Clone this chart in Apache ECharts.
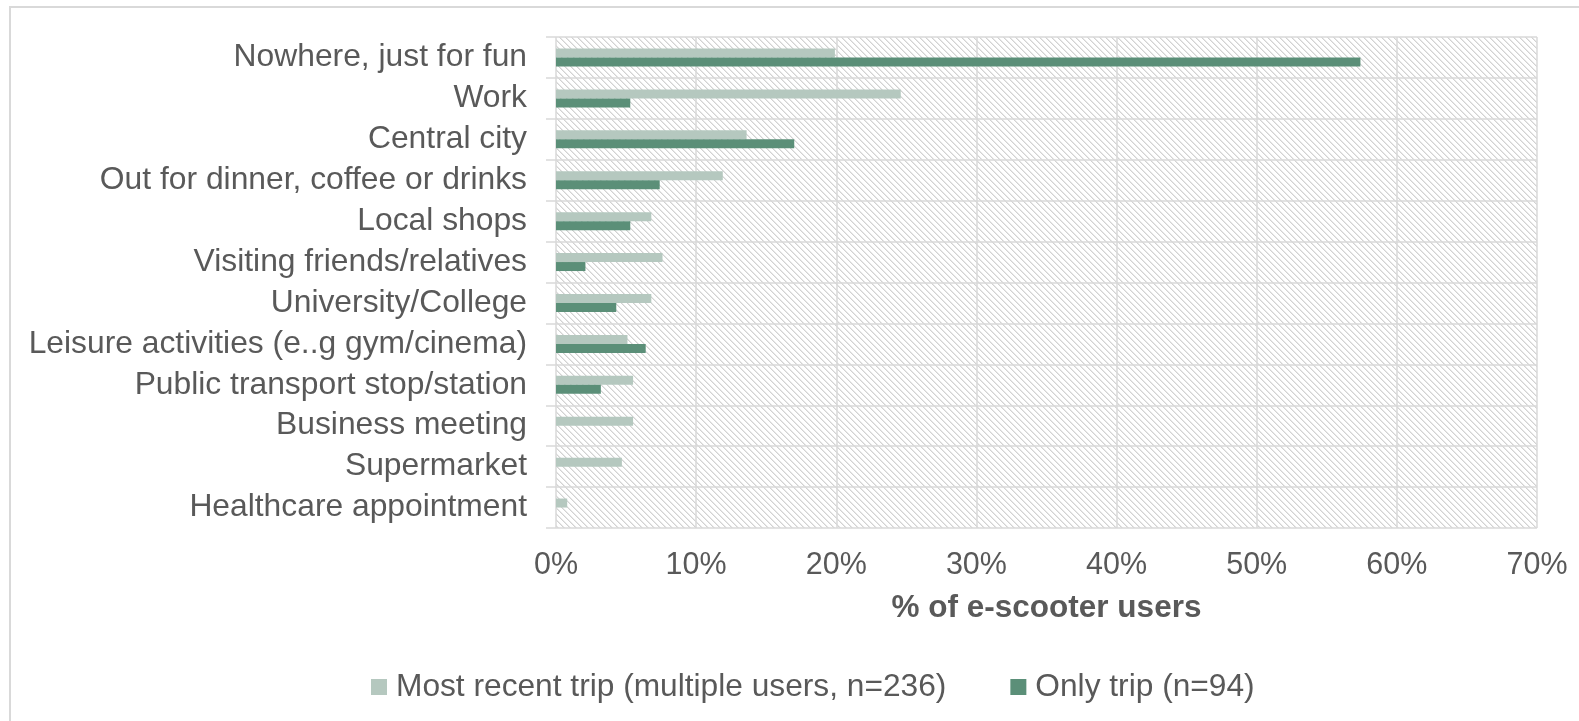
<!DOCTYPE html>
<html>
<head>
<meta charset="utf-8">
<script src="https://cdn.jsdelivr.net/npm/echarts@6/dist/echarts.min.js"></script>
<style>
  html, body { margin: 0; padding: 0; background: #ffffff; }
  #chart { width: 1579px; height: 721px; }
</style>
</head>
<body>
<div id="chart"></div>
<script>
// Trip destinations, top to bottom
const categories = [
  'Nowhere, just for fun',
  'Work',
  'Central city',
  'Out for dinner, coffee or drinks',
  'Local shops',
  'Visiting friends/relatives',
  'University/College',
  'Leisure activities (e..g gym/cinema)',
  'Public transport stop/station',
  'Business meeting',
  'Supermarket',
  'Healthcare appointment'
];

// Share of e-scooter users (%)
const recentTrip = [19.9, 24.6, 13.6, 11.9, 6.8, 7.6, 6.8, 5.1, 5.5, 5.5, 4.7, 0.8];
const onlyTrip   = [57.4, 5.3, 17.0, 7.4, 5.3, 2.1, 4.3, 6.4, 3.2, 0, 0, 0];

const seriesNames = ['Most recent trip (multiple users, n=236)', 'Only trip (n=94)'];
const xTicks = { min: 0, max: 70, step: 10 };

const TEXT = '#595959';
const GRID = '#d9d9d9';
const FONT = '"Liberation Sans", Arial, sans-serif';

// Diagonal hatch used as the plot-area fill
function hatch() {
  const c = document.createElement('canvas');
  c.width = 6; c.height = 6;
  const g = c.getContext('2d');
  g.fillStyle = '#ffffff';
  g.fillRect(0, 0, 6, 6);
  for (let i = 0; i < 6; i++) {
    g.fillStyle = '#d2d2d2';
    g.fillRect(i, i, 1, 1);
    g.fillStyle = '#e8e8e8';
    g.fillRect((i + 1) % 6, i, 1, 1);
  }
  return c;
}

const chart = echarts.init(document.getElementById('chart'));
chart.setOption({
  backgroundColor: '#ffffff',
  animation: false,
  textStyle: { fontFamily: FONT },
  graphic: [{
    type: 'rect',
    silent: true,
    z: -10,
    shape: { x: 10, y: 7, width: 3000, height: 3000 },
    style: { fill: 'none', stroke: GRID, lineWidth: 2 }
  }],
  grid: {
    left: 556, right: 42, top: 37, height: 491,
    show: true,
    backgroundColor: { image: hatch(), repeat: 'repeat' },
    borderWidth: 0
  },
  legend: {
    left: 366, top: 666,
    itemWidth: 16, itemHeight: 16, itemGap: 64,
    icon: 'rect',
    textStyle: { color: TEXT, fontSize: 31.7, fontFamily: FONT, padding: [0, 0, 0, 4] },
    data: seriesNames
  },
  xAxis: {
    type: 'value',
    min: xTicks.min, max: xTicks.max, interval: xTicks.step,
    axisLine: { show: false },
    axisTick: { show: false },
    splitLine: { show: true, lineStyle: { color: GRID, width: 1.5 } },
    axisLabel: { color: TEXT, fontSize: 30.5, fontFamily: FONT, margin: 22, formatter: '{value}%' },
    name: '% of e-scooter users',
    nameLocation: 'middle',
    nameGap: 64,
    nameTextStyle: { color: TEXT, fontSize: 31.5, fontWeight: 'bold', fontFamily: FONT }
  },
  yAxis: {
    type: 'category',
    inverse: true,
    data: categories,
    axisLine: { show: false },
    axisTick: { show: true, interval: 0, length: 10, lineStyle: { color: GRID, width: 1.5 } },
    splitLine: { show: true, interval: 0, lineStyle: { color: GRID, width: 1.5 } },
    axisLabel: { color: TEXT, fontSize: 31.8, fontFamily: FONT, margin: 29, interval: 0, hideOverlap: false }
  },
  series: [
    {
      name: seriesNames[0],
      type: 'bar',
      data: recentTrip,
      barWidth: 9,
      barGap: '0%',
      itemStyle: { color: '#b5c8bf' }
    },
    {
      name: seriesNames[1],
      type: 'bar',
      data: onlyTrip,
      barWidth: 9,
      barGap: '0%',
      itemStyle: { color: '#5b8f78' }
    }
  ]
});
</script>
</body>
</html>
